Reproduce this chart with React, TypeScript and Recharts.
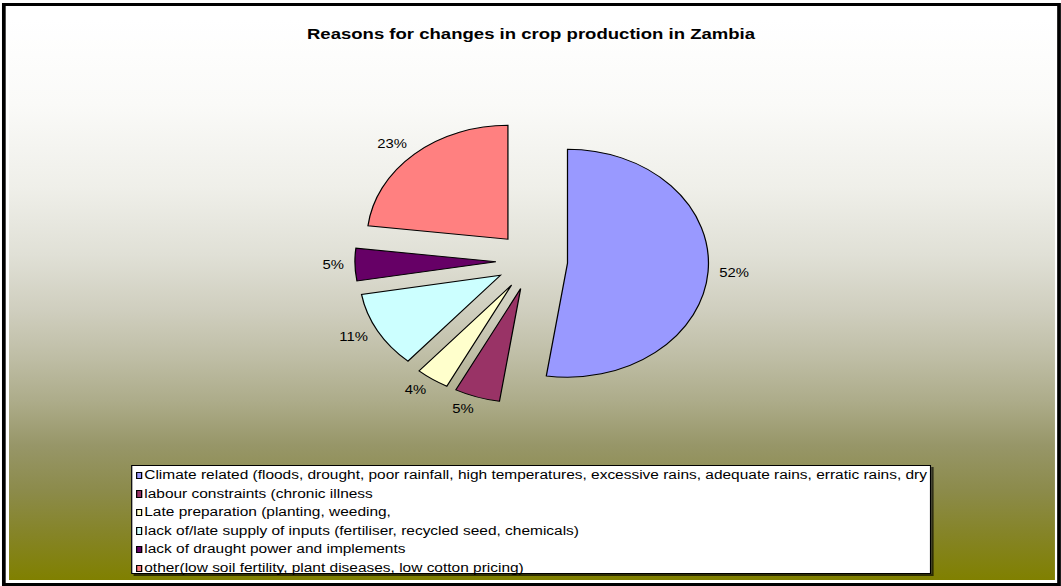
import React from 'react';
import { PieChart, Pie, Cell, Legend } from 'recharts';

const title = 'Reasons for changes in crop production in Zambia';

const categories = [
  'Climate related (floods, drought, poor rainfall, high temperatures, excessive rains, adequate rains, erratic rains, dry',
  'labour constraints (chronic illness',
  'Late preparation (planting, weeding,',
  'lack of/late supply of inputs (fertiliser, recycled seed, chemicals)',
  'lack of draught power and implements',
  'other(low soil fertility, plant diseases, low cotton pricing)',
];
const shares = [52.4, 5.2, 3.8, 10.9, 4.6, 23.1];
const colors = ['#9999FF', '#993366', '#FFFFCC', '#CCFFFF', '#660066', '#FF8080'];

const FONT = "'Liberation Sans', Arial, Helvetica, sans-serif";
const W = 858;
const H = 586;
const SX = 1061 / 858;
const CX = 430;
const CY = 261;
const R = 114;
const EXPLODE = 29;
const RAD = Math.PI / 180;

const data = categories.map((name, i) => ({ name, value: shares[i], fill: colors[i] }));

const total = shares.reduce((a, b) => a + b, 0);
const mids: number[] = [];
{
  let acc = 0;
  shares.forEach((v) => {
    mids.push(90 - (360 * (acc + v / 2)) / total);
    acc += v;
  });
}

const renderLabel = (p: any) => {
  const c = Math.cos(-p.midAngle * RAD);
  const s = Math.sin(-p.midAngle * RAD);
  const vx = p.cx + EXPLODE * c;
  const vy = p.cy + EXPLODE * s;
  const x = vx + (p.outerRadius + 9) * c;
  const y = vy + (p.outerRadius + 13) * s;
  return (
    <text
      x={x}
      y={y}
      textAnchor={c >= 0 ? 'start' : 'end'}
      dominantBaseline="central"
      fontSize={12}
      fontFamily={FONT}
      fill="#000"
    >
      {`${Math.round(p.percent * 100)}%`}
    </text>
  );
};

const renderLegend = (props: any) => {
  const items = [...(props.payload || [])].sort(
    (a: any, b: any) => categories.indexOf(a.value) - categories.indexOf(b.value)
  );
  return (
    <div
      style={{
        width: '100%',
        height: '100%',
        boxSizing: 'border-box',
        border: '1px solid #000',
        background: '#fff',
        boxShadow: '2px 2px 0 rgba(0,0,0,0.65)',
        fontFamily: FONT,
        fontSize: 12.5,
        color: '#000',
        overflow: 'visible',
        textAlign: 'left',
      }}
    >
      {items.map((it: any, i: number) => (
        <div
          key={i}
          style={{
            height: 18.6,
            lineHeight: '18.6px',
            whiteSpace: 'nowrap',
            overflow: 'hidden',
            display: 'flex',
            alignItems: 'center',
          }}
        >
          <span
            style={{
              display: 'inline-block',
              width: 5.6,
              minWidth: 5.6,
              height: 7.5,
              boxSizing: 'border-box',
              border: '1px solid #000',
              background: it.color,
              marginLeft: 2.8,
              marginRight: 1.4,
              flex: 'none',
            }}
          />
          <span>{it.value}</span>
        </div>
      ))}
    </div>
  );
};

export default function App() {
  return (
    <div
      style={{
        position: 'absolute',
        left: 0,
        top: 0,
        width: W,
        height: H,
        transform: `scaleX(${SX})`,
        transformOrigin: '0 0',
        background: '#fff',
      }}
    >
      <svg width={W} height={H} style={{ position: 'absolute', left: 0, top: 0 }}>
        <defs>
          <linearGradient id="bgGrad" x1="0" y1="0" x2="0" y2="1">
            <stop offset="0%" stopColor="#ffffff" />
            <stop offset="15%" stopColor="#fafaf8" />
            <stop offset="30%" stopColor="#efefe9" />
            <stop offset="42%" stopColor="#e0e0d6" />
            <stop offset="52%" stopColor="#cfcebe" />
            <stop offset="60%" stopColor="#bfbea6" />
            <stop offset="68%" stopColor="#adac8a" />
            <stop offset="76%" stopColor="#979668" />
            <stop offset="84%" stopColor="#8c8b4b" />
            <stop offset="92%" stopColor="#858426" />
            <stop offset="100%" stopColor="#808000" />
          </linearGradient>
        </defs>
        <rect x={3.1} y={4.5} width={853.3} height={580} fill="#fff" stroke="#000" strokeWidth={3} />
        <rect x={7.3} y={20} width={845.8} height={560} fill="url(#bgGrad)" />
        <text
          x={429.4}
          y={39}
          textAnchor="middle"
          fontFamily={FONT}
          fontSize={15}
          fontWeight="bold"
          fill="#000"
        >
          {title}
        </text>
      </svg>
      <div style={{ position: 'absolute', left: 0, top: 0, width: W, height: H }}>
        <PieChart width={W} height={H} margin={{ top: 0, right: 0, bottom: 0, left: 0 }}>
          <Pie
            data={data}
            dataKey="value"
            nameKey="name"
            cx={CX}
            cy={CY}
            outerRadius={R}
            startAngle={90}
            endAngle={-270}
            stroke="#000"
            strokeWidth={1}
            label={renderLabel}
            labelLine={false}
            isAnimationActive={false}
          >
            {data.map((d, i) => (
              <Cell
                key={d.name}
                fill={d.fill}
                stroke="#000"
                strokeWidth={1}
                transform={`translate(${(EXPLODE * Math.cos(-mids[i] * RAD)).toFixed(2)}, ${(
                  EXPLODE * Math.sin(-mids[i] * RAD)
                ).toFixed(2)})`}
              />
            ))}
          </Pie>
          <Legend
            layout="horizontal"
            verticalAlign="bottom"
            align="center"
            content={renderLegend}
            wrapperStyle={{ position: 'absolute', left: 105.9, top: 465, width: 647, height: 109, margin: 0, padding: 0 }}
          />
        </PieChart>
      </div>
    </div>
  );
}
